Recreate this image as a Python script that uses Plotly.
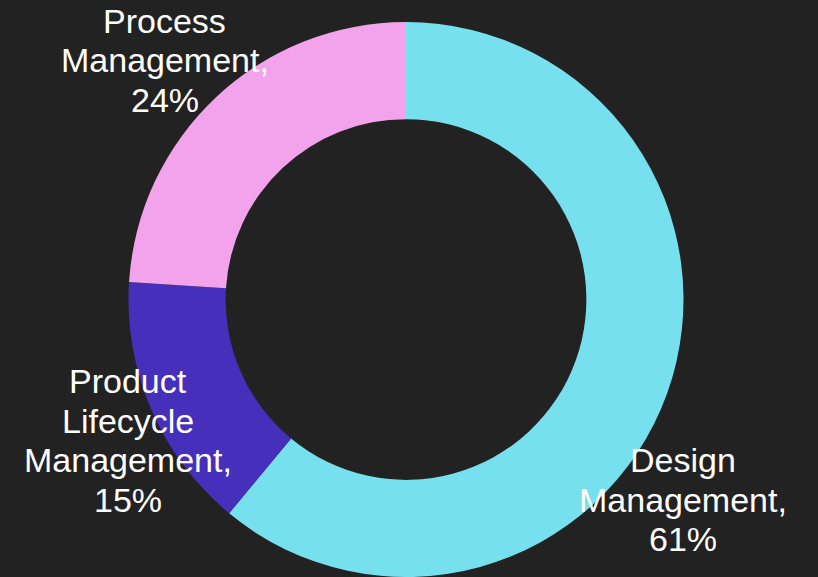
import math
import plotly.graph_objects as go

# ---- data ----
categories = ["Design Management", "Product Lifecycle Management", "Process Management"]
values = [61, 15, 24]
colors = ["#77E0EE", "#452FBB", "#F2A3EB"]

# ---- layout constants ----
W, H = 818, 577
ML, MR, MT, MB = 0, 6, 22, 0
PW, PH = W - ML - MR, H - MT - MB
R = min(PW, PH) / 2
CX, CY = ML + PW / 2, MT + PH / 2

# label placement relative to each slice's mid-angle: angular nudge (deg), radius factor
label_nudge = [16.1, -3.5, -2.0]
label_rad = [1.232, 1.123, 1.224]
FS = 34
LINE = 39.5

fig = go.Figure(go.Pie(
    labels=categories,
    values=values,
    hole=0.65,
    sort=False,
    direction="clockwise",
    rotation=0,
    marker=dict(colors=colors, line=dict(width=0)),
    textinfo="none",
    showlegend=False,
))

total = sum(values)
cum = 0
annotations = []
for i, (cat, v) in enumerate(zip(categories, values)):
    mid = (cum + v / 2) / total * 360
    cum += v
    th = math.radians(mid + label_nudge[i])
    r = R * label_rad[i]
    bx = CX + r * math.sin(th)
    by = CY - r * math.cos(th)
    words = cat.split(" ")
    words[-1] = words[-1] + ","
    lines = words + [f"{round(v / total * 100)}%"]
    n = len(lines)
    for j, txt in enumerate(lines):
        py = by + (j - (n - 1) / 2) * LINE
        annotations.append(dict(
            x=(bx - ML) / PW, y=(MT + PH - py) / PH,
            xref="paper", yref="paper",
            xanchor="center", yanchor="middle",
            text=txt, showarrow=False,
            font=dict(family="Liberation Sans, Arial, sans-serif", size=FS, color="#FFFFFF"),
        ))

fig.update_layout(
    width=W, height=H,
    margin=dict(l=ML, r=MR, t=MT, b=MB, pad=0),
    paper_bgcolor="#222222",
    plot_bgcolor="#222222",
    annotations=annotations,
)
fig.write_html("out.html", config={"displayModeBar": False},
               post_script="document.body.style.margin='0px';")
